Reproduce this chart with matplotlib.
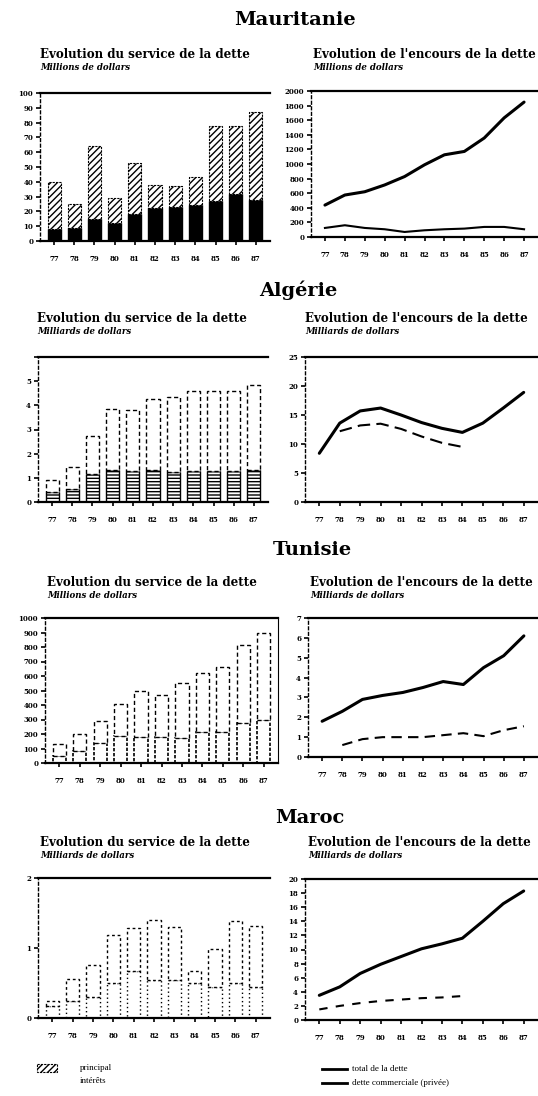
import matplotlib.pyplot as plt
from matplotlib.lines import Line2D
from matplotlib.patches import Rectangle

# years shown on every panel
years = ["77", "78", "79", "80", "81", "82", "83", "84", "85", "86", "87"]

# service de la dette : total (principal + interets) and interets part
mau_total = [40, 25, 64, 29, 53, 38, 37, 43, 78, 78, 87]
mau_interets = [8, 9, 15, 12, 18, 22, 23, 24, 27, 32, 28]
alg_total = [0.93, 1.44, 2.74, 3.84, 3.8, 4.27, 4.36, 4.59, 4.59, 4.59, 4.86]
alg_interets = [0.4, 0.55, 1.16, 1.33, 1.27, 1.33, 1.23, 1.27, 1.27, 1.3, 1.33]
tun_total = [130, 200, 290, 410, 500, 466, 552, 618, 659, 811, 898]
tun_interets = [45, 80, 136, 189, 182, 182, 170, 216, 216, 273, 295]
mar_total = [0.24, 0.55, 0.76, 1.19, 1.29, 1.40, 1.30, 0.67, 0.99, 1.38, 1.31]
mar_interets = [0.17, 0.24, 0.3, 0.5, 0.67, 0.55, 0.55, 0.5, 0.45, 0.5, 0.45]

# encours de la dette : total and dette commerciale
mau_encours = [437, 575, 620, 713, 828, 989, 1126, 1172, 1356, 1632, 1848]
mau_commerciale = [124, 161, 124, 106, 69, 92, 106, 115, 138, 138, 106]
alg_encours = [8.4, 13.6, 15.7, 16.2, 15.0, 13.7, 12.7, 12.0, 13.6, 16.2, 18.9]
alg_commerciale = [None, 12.2, 13.2, 13.5, 12.6, 11.3, 10.2, 9.5, None, None, None]
tun_encours = [1.8, 2.3, 2.9, 3.1, 3.25, 3.5, 3.8, 3.65, 4.5, 5.1, 6.1]
tun_commerciale = [None, 0.6, 0.9, 1.0, 1.0, 1.0, 1.1, 1.2, 1.05, 1.35, 1.55]
mar_encours = [3.5, 4.7, 6.6, 7.9, 9.0, 10.1, 10.8, 11.6, 14.0, 16.5, 18.3]
mar_commerciale = [1.5, 2.0, 2.4, 2.7, 2.9, 3.1, 3.2, 3.4, None, None, None]

W, H = 538, 1096
fig = plt.figure(figsize=(W / 100, H / 100), dpi=100)
SERIF = "DejaVu Serif"
BODY = "Liberation Serif"


def box(x0, y0, x1, y1):
    # pixel box -> figure fraction
    return [x0 / W, 1 - y1 / H, (x1 - x0) / W, (y1 - y0) / H]


def style_axes(ax, ymax, yticks, ylabels):
    ax.set_xlim(-0.7, len(years) - 0.3)
    ax.set_ylim(0, ymax)
    ax.set_xticks(range(len(years)))
    ax.set_xticklabels(years, fontsize=5, fontweight="bold", family=SERIF)
    ax.set_yticks(yticks)
    ax.set_yticklabels(ylabels, fontsize=5, fontweight="bold", family=SERIF)
    ax.tick_params(length=3, width=1.2, pad=2)
    ax.tick_params(axis="x", pad=7)
    ax.spines["right"].set_visible(False)
    ax.spines["top"].set_linewidth(1.6)
    ax.spines["bottom"].set_linewidth(1.6)
    ax.spines["left"].set_linestyle((0, (2, 2)))
    ax.spines["left"].set_linewidth(1.0)


def titles(x, y, sub, left=True):
    t = "Evolution du service de la dette" if left else "Evolution de l'encours de la dette"
    fig.text(x / W, 1 - y / H, t, fontsize=8.6, fontweight="bold", family=SERIF, va="center")
    fig.text(x / W, 1 - (y + 13) / H, sub, fontsize=6.2, fontweight="bold", style="italic",
             family=SERIF, va="center")


def bars(ax, total, interets, bottom_style, top_style):
    x = range(len(years))
    principal = [t - i for t, i in zip(total, interets)]
    ax.bar(x, interets, width=0.65, **bottom_style)
    ax.bar(x, principal, bottom=interets, width=0.65, **top_style)


def lines(ax, total, comm, comm_ls):
    x = range(len(years))
    ax.plot(x, total, color="black", lw=2.2, solid_capstyle="round")
    cx = [i for i, v in zip(x, comm) if v is not None]
    cy = [v for v in comm if v is not None]
    ax.plot(cx, cy, color="black", lw=1.5, linestyle=comm_ls)


# country headings
for name, cx, cy in [("Mauritanie", 295, 20), ("Algérie", 298, 290),
                     ("Tunisie", 312, 550), ("Maroc", 310, 818)]:
    fig.text(cx / W, 1 - cy / H, name, fontsize=14, fontweight="bold", family=SERIF,
             ha="center", va="center")

# Mauritanie
titles(40, 55, "Millions de dollars")
ax = fig.add_axes(box(40, 93, 270, 241))
bars(ax, mau_total, mau_interets,
     dict(color="black", edgecolor="black"),
     dict(color="white", edgecolor="black", hatch="/////", linestyle=(0, (2, 1)), linewidth=0.8))
style_axes(ax, 100, range(0, 101, 10), [str(v) for v in range(0, 101, 10)])

titles(313, 55, "Millions de dollars", left=False)
ax = fig.add_axes(box(311, 91, 538, 237))
lines(ax, mau_encours, mau_commerciale, "-")
style_axes(ax, 2000, range(0, 2001, 200), [str(v) for v in range(0, 2001, 200)])

# Algerie
titles(37, 318, "Milliards de dollars")
ax = fig.add_axes(box(38, 357, 268, 502))
bars(ax, alg_total, alg_interets,
     dict(color="white", edgecolor="black", hatch="-----", linewidth=1.0),
     dict(color="white", edgecolor="black", linestyle=(0, (3, 2)), linewidth=1.0))
style_axes(ax, 6, range(0, 7), ["0", "1", "2", "3", "4", "5", ""])

titles(305, 318, "Milliards de dollars", left=False)
ax = fig.add_axes(box(305, 357, 538, 502))
lines(ax, alg_encours, alg_commerciale, (0, (6, 3)))
style_axes(ax, 25, range(0, 26, 5), [str(v) for v in range(0, 26, 5)])

# Tunisie
titles(47, 583, "Millions de dollars")
ax = fig.add_axes(box(45, 618, 278, 763))
bars(ax, tun_total, tun_interets,
     dict(color="white", edgecolor="black", linestyle=(0, (2, 1)), linewidth=1.2),
     dict(color="white", edgecolor="black", linestyle=(0, (3, 2)), linewidth=1.0))
style_axes(ax, 1000, range(0, 1001, 100), [str(v) for v in range(0, 1001, 100)])
ax.spines["right"].set_visible(True)

titles(310, 583, "Milliards de dollars", left=False)
ax = fig.add_axes(box(308, 618, 538, 757))
lines(ax, tun_encours, tun_commerciale, (0, (5, 3)))
style_axes(ax, 7, range(0, 8), [str(v) for v in range(0, 8)])

# Maroc
titles(40, 843, "Milliards de dollars")
ax = fig.add_axes(box(38, 878, 270, 1018))
bars(ax, mar_total, mar_interets,
     dict(color="white", edgecolor="black", linestyle=(0, (1, 2)), linewidth=1.0),
     dict(color="white", edgecolor="black", linestyle=(0, (2, 2)), linewidth=1.0))
style_axes(ax, 2, range(0, 3), ["0", "1", "2"])

titles(308, 843, "Milliards de dollars", left=False)
ax = fig.add_axes(box(305, 879, 538, 1020))
lines(ax, mar_encours, mar_commerciale, (0, (4, 4)))
style_axes(ax, 20, range(0, 21, 2), [str(v) for v in range(0, 21, 2)])

# legend at the bottom
lg = fig.add_axes([0, 0, 1, 1], facecolor="none")
lg.set_xlim(0, W)
lg.set_ylim(H, 0)
lg.axis("off")
lg.add_patch(Rectangle((37, 1064), 20, 8, facecolor="white", edgecolor="black",
                       hatch="/////", linestyle=(0, (2, 1)), linewidth=0.8))
lg.text(80, 1068, "principal", fontsize=6.5, family=BODY, va="center")
lg.text(80, 1081, "intérêts", fontsize=6.5, family=BODY, va="center")
lg.add_line(Line2D([322, 347], [1069, 1069], color="black", lw=2))
lg.add_line(Line2D([322, 347], [1083, 1083], color="black", lw=2))
lg.text(352, 1069, "total de la dette", fontsize=6.5, family=BODY, va="center")
lg.text(352, 1083, "dette commerciale (privée)", fontsize=6.5, family=BODY, va="center")

fig.savefig("out.png", dpi=100)
